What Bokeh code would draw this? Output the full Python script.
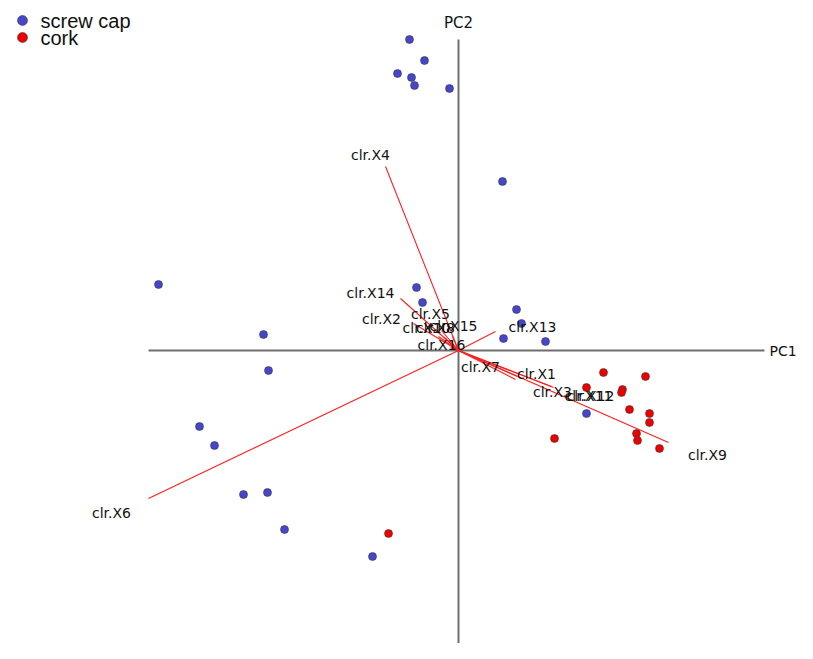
from bokeh.plotting import figure
from bokeh.models import Range1d, ColumnDataSource
from bokeh.core.properties import value
from bokeh.embed import file_html
from bokeh.resources import INLINE

# ---- scores (PC1, PC2) ----
screw_pc1 = [-0.49, -0.34, -0.61, -0.47, -0.44, -0.09, 0.44, -3.00, -0.42, -0.36, 0.58, 0.63,
             -1.95, 0.45, 0.87, -1.90, 1.28, -2.59, -2.44, -2.15, -1.91, -1.74, -0.86, -1.48]
screw_pc2 = [3.11, 2.90, 2.77, 2.73, 2.65, 2.62, 1.69, 0.66, 0.63, 0.48, 0.41, 0.27,
             0.16, 0.12, 0.09, -0.20, -0.63, -0.76, -0.95, -1.44, -1.42, -1.79, -2.06, -3.08]
cork_pc1 = [1.45, 1.87, 1.28, 1.64, 1.63, 1.71, 1.91, 1.91, 1.78, 1.79, 2.01, 0.96, -0.70]
cork_pc2 = [-0.22, -0.26, -0.37, -0.39, -0.42, -0.59, -0.63, -0.72, -0.83, -0.90, -0.98, -0.88, -1.83]

# ---- loadings (arrow tips) and their label anchors ----
variables = ["clr.X1", "clr.X2", "clr.X3", "clr.X4", "clr.X5", "clr.X6", "clr.X7", "clr.X8",
             "clr.X9", "clr.X10", "clr.X11", "clr.X12", "clr.X13", "clr.X14", "clr.X15", "clr.X16"]
load_pc1 = [0.59, -0.45, 0.57, -0.73, -0.17, -3.10, 0.27, -0.14, 2.10, -0.20, 0.95, 0.93, 0.37, -0.58, -0.06, -0.08]
load_pc2 = [-0.26, 0.27, -0.29, 1.84, 0.20, -1.48, -0.12, 0.13, -0.92, 0.14, -0.37, -0.36, 0.19, 0.52, 0.14, 0.03]
label_pc1 = [0.78, -0.77, 0.94, -0.88, -0.28, -3.47, 0.22, -0.23, 2.49, -0.32, 1.30, 1.32, 0.74, -0.88, -0.05, -0.17]
label_pc2 = [-0.23, 0.32, -0.41, 1.96, 0.37, -1.62, -0.16, 0.23, -1.04, 0.23, -0.45, -0.45, 0.24, 0.58, 0.25, 0.06]

groups = ["screw cap", "cork"]
axis_names = ["PC1", "PC2"]

# ---- page geometry ----
W, H = 797, 643
PX = 100.0             # pixels per PC unit
OX, OY = 458.0, 350.0  # origin in figure pixels
x0, x1 = -OX / PX, (W - OX) / PX
y0, y1 = -(H - OY) / PX, OY / PX

def px(fx, fy):
    return (fx - OX) / PX, (OY - fy) / PX

p = figure(width=W, height=H, output_backend="svg", toolbar_location=None,
           x_range=Range1d(x0, x1), y_range=Range1d(y0, y1),
           x_axis_location=None, y_axis_location=None, min_border=0)
p.outline_line_color = None
p.xgrid.visible = False
p.ygrid.visible = False
p.background_fill_color = "white"

# axes through the origin
hx0, _ = px(148, 0)
hx1, _ = px(764, 0)
_, vy1 = px(0, 39)
p.segment(x0=[hx0], y0=[0], x1=[hx1], y1=[0], line_color="#6e6e6e", line_width=2)
p.segment(x0=[0], y0=[y0], x1=[0], y1=[vy1], line_color="#6e6e6e", line_width=2)
lx, _ = px(769, 0)
_, ly = px(0, 22)
p.text(x=[lx], y=[0], text=[axis_names[0]], text_align="left", text_baseline="middle",
       text_font=value("DejaVu Sans"), text_font_size="14px", text_color="#111111")
p.text(x=[0], y=[ly], text=[axis_names[1]], text_align="center", text_baseline="middle",
       text_font=value("DejaVu Sans"), text_font_size="15px", text_color="#111111")

# loading vectors
src = ColumnDataSource(dict(x0=[0.0] * len(load_pc1), y0=[0.0] * len(load_pc1),
                            x1=load_pc1, y1=load_pc2, lx=label_pc1, ly=label_pc2, name=variables))
p.segment(x0="x0", y0="y0", x1="x1", y1="y1", source=src, line_color="#ff2020", line_width=1.1)

# scores
p.scatter(screw_pc1, screw_pc2, size=8, fill_color="#4646cc", line_color="#3a3a3a", line_width=0.6)
p.scatter(cork_pc1, cork_pc2, size=8, fill_color="#ee0000", line_color="#3a3a3a", line_width=0.6)

# variable labels
p.text(x="lx", y="ly", text="name", source=src, text_align="center", text_baseline="middle",
       text_font=value("DejaVu Sans"), text_font_size="14px", text_color="#111111")

# legend (top-left)
gx, gy1 = px(22, 20)
_, gy2 = px(22, 37)
tx, _ = px(40, 0)
p.scatter([gx], [gy1], size=10, fill_color="#4646cc", line_color="#3a3a3a", line_width=0.6)
p.scatter([gx], [gy2], size=10, fill_color="#ee0000", line_color="#3a3a3a", line_width=0.6)
p.text(x=[tx, tx], y=[gy1, gy2], text=groups, text_align="left", text_baseline="middle",
       text_font=value("Liberation Sans"), text_font_size="20px", text_color="#111111")

open("out.html", "w").write(file_html(p, INLINE))
